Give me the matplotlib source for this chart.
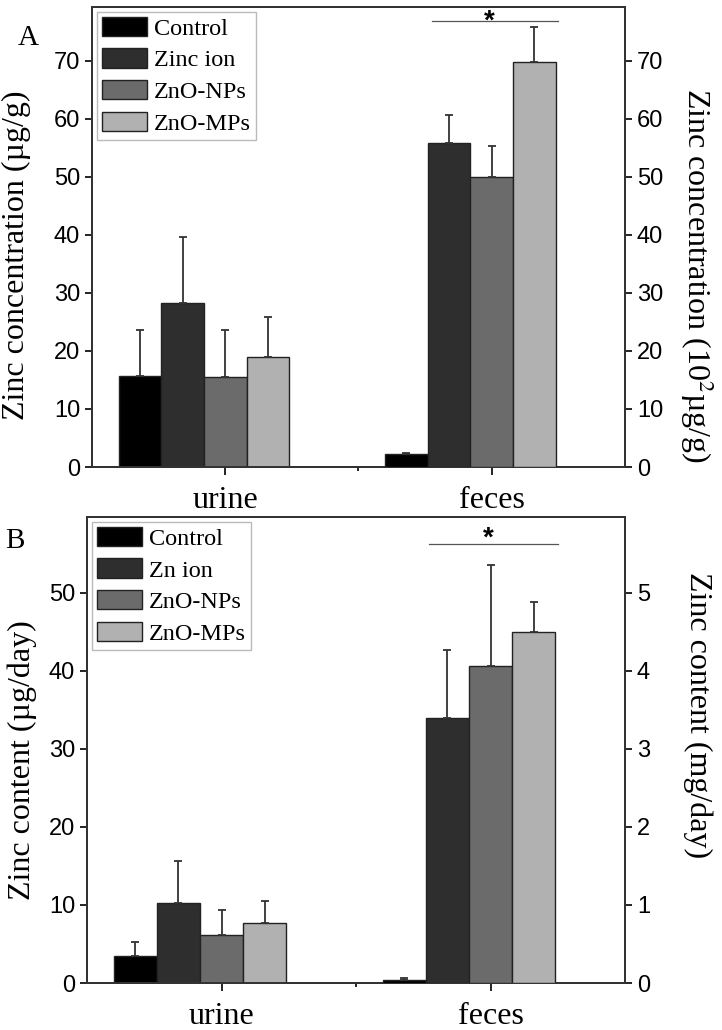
import numpy as np
import matplotlib.pyplot as plt

plt.rcParams['font.family'] = ['Liberation Serif', 'DejaVu Serif']
plt.rcParams['mathtext.fontset'] = 'stix'

# data
sites = ['urine', 'feces']
groups_a = ['Control', 'Zinc ion', 'ZnO-NPs', 'ZnO-MPs']
groups_b = ['Control', 'Zn ion', 'ZnO-NPs', 'ZnO-MPs']
colors = ['#000000', '#2e2e2e', '#6b6b6b', '#b1b1b1']

# panel A: urine in ug/g, feces in 10^2 ug/g
a_urine = [15.7, 28.3, 15.6, 18.9]
a_urine_err = [7.9, 11.3, 8.0, 7.0]
a_feces = [2.3, 55.9, 50.0, 69.9]
a_feces_err = [0.2, 4.7, 5.4, 6.0]

# panel B: urine in ug/day, feces in mg/day
b_urine = [3.5, 10.3, 6.2, 7.7]
b_urine_err = [1.7, 5.3, 3.2, 2.8]
b_feces = [0.04, 3.40, 4.06, 4.50]
b_feces_err = [0.02, 0.87, 1.30, 0.38]

w = 0.16
offsets = np.array([-2, -1, 0, 1]) * w


def panel(ax, urine, uerr, feces, ferr, ymax, scale, labels):
    ax2 = ax.twinx()
    ax2.set_ylim(0, ymax / scale)
    ax.set_ylim(0, ymax)
    ax.set_xlim(0.5, 2.5)
    ekw = dict(ecolor='#333333', elinewidth=1.3, capsize=3, capthick=1.3)
    for i in range(4):
        ax.bar(1 + offsets[i], urine[i], w, yerr=[[0], [uerr[i]]], color=colors[i],
               edgecolor='#222222', linewidth=1.0, label=labels[i], zorder=3,
               error_kw=ekw)
        ax2.bar(2 + offsets[i], feces[i], w, yerr=[[0], [ferr[i]]], color=colors[i],
                edgecolor='#222222', linewidth=1.0, zorder=3, error_kw=ekw)
    ax.set_xticks([1, 2])
    ax.set_xticklabels(sites, fontsize=23)
    ax.set_xticks([1.5], minor=True)
    for a in (ax, ax2):
        for s in a.spines.values():
            s.set_linewidth(1.4)
            s.set_color('#333333')
        a.tick_params(axis='y', labelsize=17, direction='out', length=5, width=1.2,
                      labelfontfamily='Liberation Sans')
    ax.tick_params(axis='x', which='major', direction='out', length=6, width=1.2, pad=8)
    ax.tick_params(axis='x', which='minor', direction='out', length=3, width=1.2)
    leg = ax.legend(loc='upper left', fontsize=17.5, frameon=True, fancybox=False,
                    edgecolor='#aaaaaa', borderpad=0.2, labelspacing=0.35,
                    handlelength=1.85, handleheight=0.85, handletextpad=0.3,
                    borderaxespad=0.2)
    leg.get_frame().set_linewidth(1.0)
    return ax2


fig = plt.figure(figsize=(7.22, 10.3), dpi=100)
axA = fig.add_axes([0.1274, 0.5466, 0.7382, 0.4466])
axB = fig.add_axes([0.1205, 0.0456, 0.7452, 0.4524])

axA2 = panel(axA, a_urine, a_urine_err, a_feces, a_feces_err, 79.3, 1.0, groups_a)
axA.set_yticks(np.arange(0, 71, 10))
axA2.set_yticks(np.arange(0, 71, 10))
axB2 = panel(axB, b_urine, b_urine_err, b_feces, b_feces_err, 59.7, 10.0, groups_b)
axB.set_yticks(np.arange(0, 51, 10))
axB2.set_yticks(np.arange(0, 5.1, 1))

# axis labels
axA.text(-0.141, 0.46, 'Zinc concentration (µg/g)', transform=axA.transAxes, rotation=90,
         ha='center', va='center', fontsize=23)
axA.text(1.135, 0.417, 'Zinc concentration (10$^2$µg/g)', transform=axA.transAxes,
         rotation=270, ha='center', va='center', fontsize=23)
axB.text(-0.121, 0.478, 'Zinc content (µg/day)', transform=axB.transAxes, rotation=90,
         ha='center', va='center', fontsize=23)
axB.text(1.136, 0.575, 'Zinc content (mg/day)', transform=axB.transAxes, rotation=270,
         ha='center', va='center', fontsize=23)

# panel letters
fig.text(18 / 722, 1 - 45 / 1030, 'A', fontsize=21)
fig.text(5 / 722, 1 - 548 / 1030, 'B', fontsize=21)

# significance marks
axA.plot([1.776, 2.249], [76.9, 76.9], color='#555555', lw=0.9)
axA.text(1.99, 75.6, '*', ha='center', va='baseline', fontsize=20,
         fontfamily='Liberation Sans', fontweight='bold')
axB.plot([1.77, 2.25], [56.3, 56.3], color='#555555', lw=0.9)
axB.text(1.99, 56.0, '*', ha='center', va='baseline', fontsize=20,
         fontfamily='Liberation Sans', fontweight='bold')

fig.savefig('out.png', dpi=100)
